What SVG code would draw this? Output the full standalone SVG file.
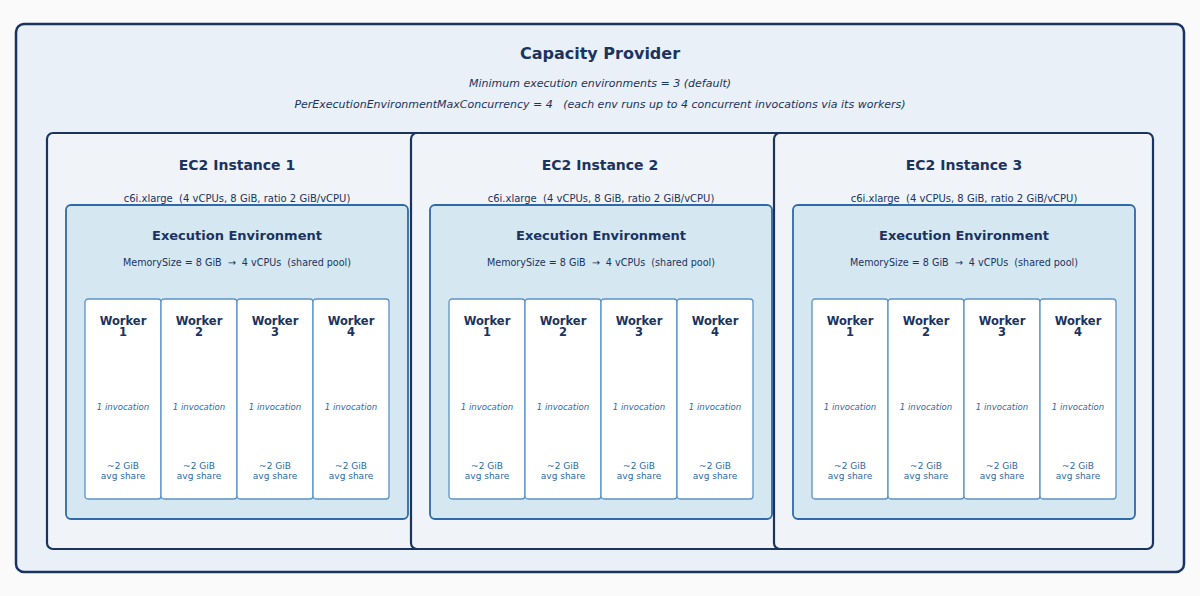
<svg xmlns="http://www.w3.org/2000/svg" width="1200" height="596" viewBox="0 0 1200 596">
<style>
text{font-family:"DejaVu Sans",sans-serif;text-anchor:middle;white-space:pre}
.outer{fill:#e9f0f7;stroke:#1a3361;stroke-width:2.5}
.inst{fill:#f0f4f8;stroke:#1a3361;stroke-width:2.2}
.ee{fill:#d5e8f1;stroke:#2e6aa8;stroke-width:1.8}
.wk{fill:#fff;stroke:#5b93c8;stroke-width:1.3}
.h1{font-size:16px;font-weight:bold;fill:#1a3361}
.sub{font-size:11px;font-style:italic;fill:#1a3361}
.h2{font-size:14px;font-weight:bold;fill:#1a3361}
.t{font-size:10px;fill:#1a3361}
.h3{font-size:13px;font-weight:bold;fill:#1a3361}
.t2{font-size:9.6px;fill:#1a3361}
.w{font-size:11.5px;font-weight:bold;fill:#1a3361}
.inv{font-size:8.5px;font-style:italic;fill:#2e6aa8}
.gb{font-size:9px;fill:#2e6aa8}
</style>
<defs>
<g id="wkr"><rect class="wk" x="0" y="0" width="76" height="200" rx="3"/><text class="inv" x="38" y="111">1 invocation</text><text class="gb" x="38" y="170">~2 GiB</text><text class="gb" x="38" y="180">avg share</text></g>
<g id="inst">
<rect class="inst" x="0" y="0" width="379" height="416" rx="6"/>
<text class="t" x="190" y="69">c6i.xlarge  (4 vCPUs, 8 GiB, ratio 2 GiB/vCPU)</text>
<rect class="ee" x="19" y="72" width="342" height="314" rx="5"/>
<text class="h3" x="190" y="107">Execution Environment</text>
<text class="t2" x="190" y="133">MemorySize = 8 GiB  →  4 vCPUs  (shared pool)</text>
<use href="#wkr" x="38" y="166"/><use href="#wkr" x="114" y="166"/><use href="#wkr" x="190" y="166"/><use href="#wkr" x="266" y="166"/>
<text class="w" x="76" y="192">Worker</text><text class="w" x="76" y="203">1</text>
<text class="w" x="152" y="192">Worker</text><text class="w" x="152" y="203">2</text>
<text class="w" x="228" y="192">Worker</text><text class="w" x="228" y="203">3</text>
<text class="w" x="304" y="192">Worker</text><text class="w" x="304" y="203">4</text>
</g>
</defs>
<rect width="1200" height="596" fill="#fafafa"/>
<g id="capacity-provider">
<rect class="outer" x="16" y="24" width="1168" height="548" rx="8"/>
<text class="h1" x="600" y="59">Capacity Provider</text>
<text class="sub" x="600" y="87">Minimum execution environments = 3 (default)</text>
<text class="sub" x="600" y="108">PerExecutionEnvironmentMaxConcurrency = 4   (each env runs up to 4 concurrent invocations via its workers)</text>
</g>
<g id="instance-1"><use href="#inst" x="47" y="133"/><text class="h2" x="237" y="170">EC2 Instance 1</text></g>
<g id="instance-2"><use href="#inst" x="411" y="133"/><text class="h2" x="600" y="170">EC2 Instance 2</text></g>
<g id="instance-3"><use href="#inst" x="774" y="133"/><text class="h2" x="964" y="170">EC2 Instance 3</text></g>
<g id="connectors"/>
</svg>
